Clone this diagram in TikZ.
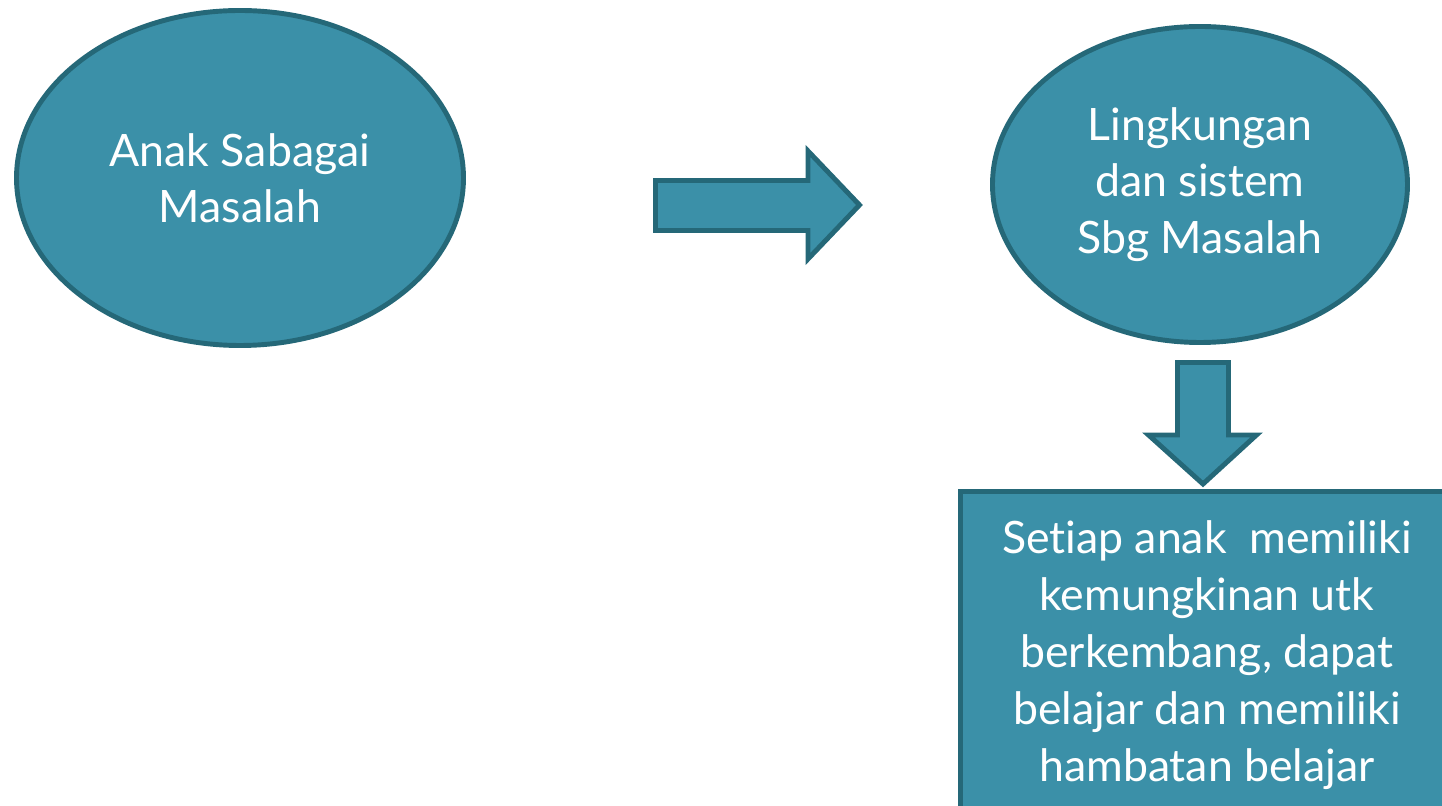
\documentclass[tikz,border=0pt]{standalone}
\usepackage{fontspec}
\setmainfont[Ligatures=NoCommon]{Lato}
\usetikzlibrary{positioning,shapes.geometric}
\definecolor{tealfill}{RGB}{59,144,168}
\definecolor{tealline}{RGB}{37,104,120}

\begin{document}
\begin{tikzpicture}[
  blob/.style={ellipse, draw=tealline, fill=tealfill, line width=1.4pt,
    text=white, align=center, font=\fontsize{12.7}{16}\selectfont},
  infobox/.style={rectangle, draw=tealline, fill=tealfill, line width=1.4pt,
    text=white, align=center, font=\fontsize{12.7}{16.2}\selectfont},
  blockarrow/.style={draw=tealline, fill=tealfill, line width=1.4pt, line join=miter}
]
\useasboundingbox (0,0) rectangle (14.42,-8.06);
\node[blob, minimum width=4.47cm, minimum height=3.35cm] (anak) at (2.40,-1.78) {Anak Sabagai\\Masalah};
\node[blob, minimum width=4.15cm, minimum height=3.16cm] (lingk) at (12.00,-1.845) {Lingkungan\\dan sistem\\Sbg Masalah};
\node[infobox, minimum width=4.93cm, minimum height=3.27cm] (setiap) at (12.07,-6.55)
  {Setiap anak\ \ memiliki\\kemungkinan utk\\berkembang, dapat\\belajar dan memiliki\\hambatan belajar};
% block arrows
\draw[blockarrow] (6.555,-1.805) -- (8.08,-1.805) -- (8.08,-1.51) -- (8.595,-2.05)
  -- (8.08,-2.59) -- (8.08,-2.305) -- (6.555,-2.305) -- cycle;
\draw[blockarrow] (11.775,-3.625) -- (12.285,-3.625) -- (12.285,-4.35) -- (12.565,-4.35)
  -- (12.03,-4.84) -- (11.485,-4.35) -- (11.775,-4.35) -- cycle;
\end{tikzpicture}
\end{document}
